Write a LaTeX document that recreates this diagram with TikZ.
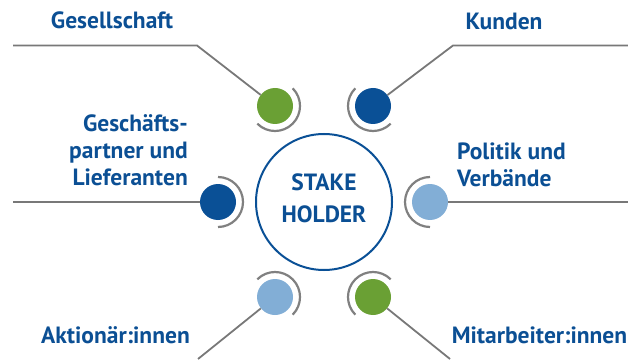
\documentclass[tikz,border=0pt]{standalone}
\usepackage{fontspec}
\setmainfont{PT Sans}
\definecolor{dkblue}{RGB}{10,80,150}
\definecolor{txtblue}{RGB}{11,79,148}
\definecolor{dotgreen}{RGB}{106,160,52}
\definecolor{ltblue}{RGB}{130,174,214}
\definecolor{linegray}{RGB}{120,120,120}
\definecolor{arcgray}{RGB}{128,128,128}
\begin{document}
\begin{tikzpicture}[x=1pt,y=1pt,
  conn/.style={draw=linegray,line width=1.8pt},
  arcst/.style={draw=arcgray,line width=2.2pt},
  dot/.style={circle,minimum size=36pt,inner sep=0pt,fill=#1},
  lbl/.style={text=txtblue,font=\bfseries\fontsize{23.5}{27}\selectfont,inner sep=0pt},
  hub/.style={circle,draw=dkblue,line width=2pt,minimum size=136pt,inner sep=0pt,fill=white}]
\useasboundingbox (0,0) rectangle (628,359);
% hub
\node[hub] (hub) at (324,157) {};
\node[lbl,anchor=base] (stake) at (324,168) {STAKE};
\node[lbl,anchor=base] (holder) at (324,137) {HOLDER};
% dots
\node[dot=dotgreen] (dG) at (275,253) {};
\node[dot=dkblue] (dK) at (373,253) {};
\node[dot=dkblue] (dGP) at (218,157) {};
\node[dot=ltblue] (dP) at (430,157) {};
\node[dot=ltblue] (dA) at (275,62) {};
\node[dot=dotgreen] (dM) at (373,62) {};
% arcs
\draw[arcst] (dG.center) ++(45:25) arc[start angle=45,end angle=-135,radius=25];
\draw[arcst] (dK.center) ++(135:25) arc[start angle=135,end angle=315,radius=25];
\draw[arcst] (dGP.center) ++(90:25) arc[start angle=90,end angle=-90,radius=25];
\draw[arcst] (dP.center) ++(90:25) arc[start angle=90,end angle=270,radius=25];
\draw[arcst] (dA.center) ++(135:25) arc[start angle=135,end angle=-45,radius=25];
\draw[arcst] (dM.center) ++(45:25) arc[start angle=45,end angle=225,radius=25];
% connector coordinates
\coordinate (gL) at (13,313.5);
\coordinate (gB) at (197,313.5);
\coordinate (kB) at (453,313.5);
\coordinate (kR) at (628,313.5);
\coordinate (gpL) at (13,157);
\coordinate (pR) at (628,157);
\coordinate (aE) at (198,0);
\coordinate (mE) at (450,0);
\draw[conn] (gL) -- (gB) -- (dG);
\draw[conn] (dK) -- (kB) -- (kR);
\draw[conn] (gpL) -- (dGP);
\draw[conn] (dP) -- (pR);
\draw[conn] (dA) -- (aE);
\draw[conn] (dM) -- (mE);
% labels
\node[lbl,anchor=base] (tG) at (112,330) {Gesellschaft};
\node[lbl,anchor=base] (tK) at (504,329) {Kunden};
\node[lbl,anchor=base east,align=right] (tGP) at (188,174) {Geschäfts-\\partner und\\Lieferanten};
\node[lbl,anchor=base west,align=left] (tP) at (457,172) {Politik und\\Verbände};
\node[lbl,anchor=base] (tA) at (115.5,16) {Aktionär:innen};
\node[lbl,anchor=base] (tM) at (539.5,16) {Mitarbeiter:innen};
\end{tikzpicture}
\end{document}
